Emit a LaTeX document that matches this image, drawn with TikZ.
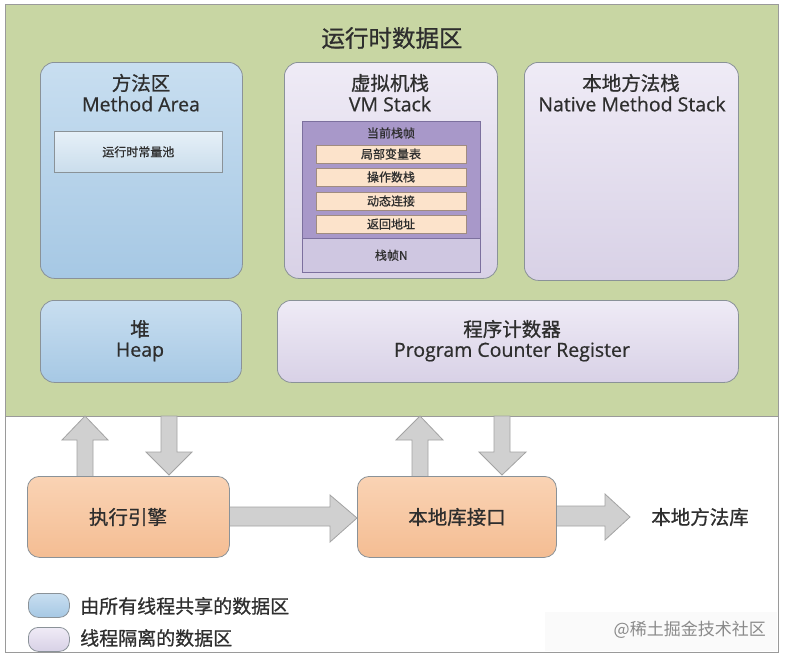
\documentclass[tikz,border=0pt]{standalone}
\usepackage{fontspec}
\setmainfont{Open Sans}[RawFeature={embolden=0.6}]
\newfontfamily\cjk{Noto Sans CJK SC}[RawFeature={embolden=0.8}]
\newfontfamily\cjkl{Noto Sans CJK SC}
\definecolor{bggreen}{HTML}{C8D6A3}
\definecolor{framecol}{HTML}{9A9A9A}
\definecolor{blueT}{HTML}{C8DEF0}
\definecolor{blueB}{HTML}{A6C8E4}
\definecolor{boxline}{HTML}{8A9298}
\definecolor{purT}{HTML}{EFEBF6}
\definecolor{purB}{HTML}{D8D1E6}
\definecolor{frameP}{HTML}{A898C9}
\definecolor{framePline}{HTML}{7C709E}
\definecolor{frameLow}{HTML}{CFC7E1}
\definecolor{rowfill}{HTML}{FCE3CB}
\definecolor{rowline}{HTML}{A08C80}
\definecolor{orT}{HTML}{FAD3B4}
\definecolor{orB}{HTML}{F4BD93}
\definecolor{arrfill}{HTML}{D0D0D0}
\definecolor{arrline}{HTML}{A3A3A3}
\definecolor{txt}{HTML}{2E2E2E}
\definecolor{poolT}{HTML}{E6F0F8}
\definecolor{poolB}{HTML}{CADDEC}
\definecolor{wm}{HTML}{8A8A8A}
\begin{document}
\begin{tikzpicture}[x=1pt,y=-1pt,
  region/.style={draw=boxline, line width=0.8pt, rounded corners=14pt, anchor=north west, inner sep=0pt},
  shared/.style={region, top color=blueT, bottom color=blueB},
  private/.style={region, top color=purT, bottom color=purB},
  engine/.style={region, rounded corners=12pt, top color=orT, bottom color=orB, minimum width=202pt, minimum height=81pt},
  head/.style={text=txt, font=\cjk\fontsize{19.5}{21}\selectfont, inner sep=0pt},
  headen/.style={text=txt, font=\fontsize{19.5}{21}\selectfont, inner sep=0pt},
  small/.style={text=txt, font=\cjk\fontsize{12}{13}\selectfont, inner sep=0pt},
  rowbox/.style={draw=rowline, line width=0.6pt, fill=rowfill, minimum width=150pt, minimum height=18pt, inner sep=0pt, text=txt, font=\cjk\fontsize{12}{13}\selectfont},
  blockarr/.style={draw=arrline, fill=arrfill, line width=0.8pt, line join=miter},
  legend/.style={draw=boxline, line width=0.8pt, rounded corners=10pt, minimum width=41pt, minimum height=24pt, anchor=north west, inner sep=0pt},
  legtext/.style={text=txt, font=\cjk\fontsize{19}{21}\selectfont, anchor=west, inner sep=0pt}
]
\useasboundingbox (0,0) rectangle (785,656);
\fill[white] (0,0) rectangle (785,656);
% background
\fill[bggreen] (5,4) rectangle (778,416);
\draw[framecol, line width=1pt] (5,416) -- (778,416);
\fill[black!2] (545,612) rectangle (777,651);
\draw[framecol, line width=1pt] (5,4) rectangle (778,652);

\node[text=txt, font=\cjk\fontsize{23.5}{25}\selectfont, inner sep=0pt] (title) at (392,38) {运行时数据区};

% method area
\node[shared, minimum width=202pt, minimum height=216pt] (ma) at (40,62) {};
\node[head] (maT) at (141,83) {方法区};
\node[headen] (maE) at (141,104) {Method Area};
\node[draw=boxline, line width=0.6pt, top color=poolT, bottom color=poolB, anchor=north west, minimum width=168pt, minimum height=41pt, inner sep=0pt, text=txt, font=\cjk\fontsize{12}{13}\selectfont] (pool) at (54,131) {运行时常量池};

% vm stack
\node[private, minimum width=213pt, minimum height=216pt] (vm) at (284,62) {};
\node[head] (vmT) at (390,83) {虚拟机栈};
\node[headen] (vmE) at (390,104) {VM Stack};
\node[fill=frameP, anchor=north west, minimum width=178pt, minimum height=151pt, inner sep=0pt] (frame) at (302,121) {};
\node[fill=frameLow, draw=framePline, line width=0.6pt, anchor=north west, minimum width=178pt, minimum height=34pt, inner sep=0pt, text=txt, font=\cjk\fontsize{12}{13}\selectfont] (frameN) at (302,238) {栈帧N};
\draw[framePline, line width=0.8pt] (frame.north west) rectangle (frame.south east);
\node[small] (cur) at (391,133) {当前栈帧};
\node[rowbox] (r1) at (391,154) {局部变量表};
\node[rowbox] (r2) at (391,177) {操作数栈};
\node[rowbox] (r3) at (391,201) {动态连接};
\node[rowbox] (r4) at (391,224) {返回地址};

% native method stack
\node[private, minimum width=214pt, minimum height=218pt] (nms) at (524,62) {};
\node[head] (nmsT) at (631,83) {本地方法栈};
\node[headen] (nmsE) at (632,104) {Native Method Stack};

% heap
\node[shared, minimum width=201pt, minimum height=82pt] (heap) at (40,300) {};
\node[head] (heapT) at (140,329) {堆};
\node[headen] (heapE) at (140,352) {Heap};

% pc register
\node[private, minimum width=461pt, minimum height=82pt] (pc) at (277,300) {};
\node[head] (pcT) at (512,329) {程序计数器};
\node[headen] (pcE) at (512,352) {Program Counter Register};

% block arrows
\draw[blockarr] (77,478) -- (77,440) -- (62,440) -- (85,416) -- (108,440) -- (93,440) -- (93,478) -- cycle;
\draw[blockarr] (161,416) -- (161,452) -- (146,452) -- (169,475) -- (192,452) -- (177,452) -- (177,416) -- cycle;
\draw[blockarr] (412,478) -- (412,440) -- (396,440) -- (420,416) -- (443,440) -- (428,440) -- (428,478) -- cycle;
\draw[blockarr] (494,416) -- (494,452) -- (479,452) -- (502,475) -- (526,452) -- (510,452) -- (510,416) -- cycle;
\draw[blockarr] (228,507) -- (330,507) -- (330,495) -- (357,518) -- (330,542) -- (330,526) -- (228,526) -- cycle;
\draw[blockarr] (554,506) -- (605,506) -- (605,494) -- (630,517) -- (605,540) -- (605,526) -- (554,526) -- cycle;

% engines
\node[engine] (exec) at (27,476) {};
\node[head] (execT) at (128,517) {执行引擎};
\node[engine, minimum width=199pt] (nif) at (357,476) {};
\node[head] (nifT) at (457,517) {本地库接口};
\node[head] (lib) at (700,517) {本地方法库};

% legend
\node[legend, top color=blueT, bottom color=blueB] (lg1) at (28,593) {};
\node[legtext] (lt1) at (80,606) {由所有线程共享的数据区};
\node[legend, top color=purT, bottom color=purB] (lg2) at (28,627) {};
\node[legtext] (lt2) at (80,638) {线程隔离的数据区};

\node[text=wm, font=\cjkl\fontsize{17}{18}\selectfont, anchor=east, inner sep=0pt] (wmark) at (766,630) {@稀土掘金技术社区};
\end{tikzpicture}
\end{document}
